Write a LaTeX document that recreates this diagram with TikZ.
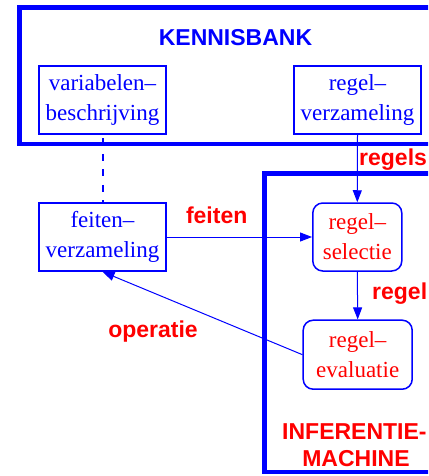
\documentclass[tikz,border=0pt]{standalone}
\usepackage{fontspec}
\setmainfont{Liberation Serif}
\newfontfamily\labfont{Liberation Sans}
\usetikzlibrary{arrows.meta}
\definecolor{kblue}{RGB}{0,0,255}
\definecolor{kred}{RGB}{255,0,0}
\tikzset{
  box/.style={draw=kblue, line width=1.5pt, minimum width=127pt, minimum height=68pt, inner sep=0pt,
    align=center, font=\fontsize{23}{30}\selectfont, text=kblue},
  rbox/.style={box, rounded corners=10pt, text=kred},
  frame/.style={draw=kblue, line width=4.5pt},
  lab/.style={font=\labfont\bfseries\fontsize{23}{28}\selectfont, text=kred, inner sep=0pt, align=center},
  conn/.style={draw=kblue, line width=1pt, -{Triangle[length=12pt,width=9pt]}},
}
\begin{document}
\begin{tikzpicture}[x=1pt,y=-1pt]
\useasboundingbox (0,0) rectangle (428,476);
\clip (0,0) rectangle (428,476);
% frames
\draw[frame] (440,7.5) -- (19.5,7.5) -- (19.5,144) -- (440,144);
\draw[frame] (440,173.5) -- (264.3,173.5) -- (264.3,472) -- (440,472);
\node[lab, text=kblue] (kb) at (235.5,38) {KENNISBANK};
% nodes
\node[box] (var) at (102.5,100) {variabelen–\\beschrijving};
\node[box] (rv) at (357.5,100) {regel–\\verzameling};
\node[box] (feit) at (102.5,237) {feiten–\\verzameling};
\node[rbox, minimum width=89pt] (sel) at (357.3,237) {regel–\\selectie};
\node[rbox, minimum width=109pt, minimum height=69pt] (ev) at (357.7,354.7) {regel–\\evaluatie};
% connectors
\draw[kblue, line width=2pt, dash pattern=on 7pt off 8.5pt, dash phase=12pt] (var.south) -- (feit.north);
\draw[conn] (rv.south) -- (sel.north);
\draw[conn] (feit.east) -- (sel.west);
\draw[conn] (sel.south) -- (ev.north);
\draw[conn] (ev.west) -- (feit.south);
% labels
\node[lab, anchor=west] (lregels) at (359,160) {regels};
\node[lab] (lfeiten) at (216.7,215) {feiten};
\node[lab, anchor=west] (lregel) at (372,294) {regel};
\node[lab] (lop) at (153,332) {operatie};
\node[lab, anchor=west] (linf) at (282,432) {INFERENTIE-};
\node[lab] (lmach) at (356,459) {MACHINE};
\end{tikzpicture}
\end{document}
